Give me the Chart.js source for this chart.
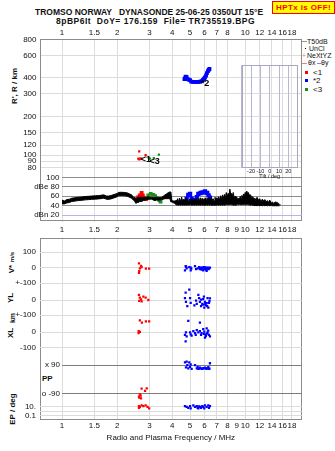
<!DOCTYPE html>
<html>
<head>
<meta charset="utf-8">
<script src="https://cdn.jsdelivr.net/npm/chart.js@4.4.0/dist/chart.umd.min.js"></script>
<style>
body { margin: 0; background: #fff; width: 335px; height: 451px; overflow: hidden; position: relative; font-family: "Liberation Sans", Arial, sans-serif; color: #111; }
canvas { position: absolute; }
.t { position: absolute; white-space: pre; line-height: 1; }
.rt { position: absolute; white-space: pre; line-height: 1; transform: translate(-50%, -50%) rotate(-90deg); font-weight: bold; }
.sw { position: absolute; }
</style>
</head>
<body>

<div class="t" style="left:35px;top:8px;font-size:8.5px;font-weight:bold">TROMSO NORWAY   DYNASONDE 25-06-25 0350UT 15°E</div>
<div class="t" style="left:56px;top:17px;font-size:8.5px;font-weight:bold;letter-spacing:0.5px">8pBP6It  DoY= 176.159  File= TR735519.BPG</div>
<div class="t" style="left:272px;top:1px;width:61px;height:11px;background:#ffff00;border:1px solid #ff0000;color:#ff0000;font-size:8px;font-weight:bold;text-align:center;line-height:11px;letter-spacing:0.4px">HPTx is OFF!</div>

<!-- legend on the right of the ionogram -->
<div class="sw" style="left:302px;top:41px;width:5px;height:1px;background:#999"></div>
<div class="t" style="left:307px;top:38px;font-size:7px">T50dB</div>
<div class="sw" style="left:305px;top:48px;width:1px;height:1px;background:#000"></div>
<div class="t" style="left:309px;top:45px;font-size:7px">UnCl</div>
<div class="t" style="left:302px;top:52px;font-size:7px;color:#f08080">+</div>
<div class="t" style="left:307px;top:52px;font-size:7px">NeXtYZ</div>
<div class="sw" style="left:302px;top:63px;width:5px;height:1px;background:#f08080"></div>
<div class="t" style="left:308px;top:59px;font-size:7px">θx</div>
<div class="sw" style="left:317px;top:63px;width:4px;height:1px;background:#8080ff"></div>
<div class="t" style="left:321px;top:59px;font-size:7px">θy</div>
<div class="sw" style="left:305px;top:71px;width:3px;height:3px;background:#ff0000"></div>
<div class="t" style="left:313px;top:69px;font-size:8px">&lt;1</div>
<div class="sw" style="left:305px;top:79px;width:3px;height:3px;background:#0000ff"></div>
<div class="t" style="left:313px;top:77px;font-size:8px">*2</div>
<div class="sw" style="left:305px;top:88px;width:3px;height:3px;background:#1e8c1e"></div>
<div class="t" style="left:313px;top:86px;font-size:8px">&lt;3</div>

<!-- axis titles -->
<div class="rt" style="left:15px;top:86px;font-size:8px">R', R / km</div>
<div class="rt" style="left:12px;top:269px;font-size:8px">V*</div>
<div class="rt" style="left:12px;top:257px;font-size:6px">m/s</div>
<div class="rt" style="left:11px;top:298px;font-size:8px">YL</div>
<div class="rt" style="left:12px;top:318px;font-size:7px">km</div>
<div class="rt" style="left:11px;top:333px;font-size:8px">XL</div>
<div class="t" style="left:42px;top:375px;font-size:8px;font-weight:bold">PP</div>
<div class="rt" style="left:13px;top:409px;font-size:8px">EP / deg</div>

<canvas id="ionogram" width="335" height="214" style="left:0;top:24px"></canvas>
<canvas id="dbpanel" width="335" height="56" style="left:0;top:170px"></canvas>
<canvas id="tilt" width="80" height="120" style="left:230px;top:60px"></canvas>
<canvas id="lower" width="335" height="221" style="left:0;top:230px"></canvas>
<canvas id="vstar" width="335" height="63" style="left:0;top:229px"></canvas>
<canvas id="ylband" width="335" height="48" style="left:0;top:276px"></canvas>
<canvas id="xlband" width="335" height="56" style="left:0;top:308px"></canvas>
<canvas id="ppband" width="335" height="60" style="left:0;top:348px"></canvas>
<canvas id="epband" width="335" height="35" style="left:0;top:392px"></canvas>

<script>
// frequency axis, log, same for every panel
FREQ_MIN = 0.7584
FREQ_MAX = 20.34
FREQ_TICKS_TOP = [1, 1.5, 2, 3, 4, 5, 6, 7, 8, 10, 12, 14, 16, 18]
FREQ_TICKS_BOTTOM = [1, 1.5, 2, 3, 4, 5, 6, 7, 8, 9, 10, 12, 14, 16, 18]

HEIGHT_TICKS = [80, 90, 100, 120, 150, 200, 300, 400, 600, 800]
DB_TICKS = [20, 40, 60, 80, 100]
DB_TICK_LABELS = ['dBn 20', '40', '60', 'dBe 80', '100']
TILT_TICKS = [-30, -20, -10, 0, 10, 20, 30]
PP_TICKS = [-90, 90]
PP_TICK_LABELS = ['o -90', 'x 90']
EP_TICKS = [0.1, 1, 10]
EP_TICK_LABELS = ['0.1', '', '10.']

// ionogram traces (MHz, km)
RED_F = [2.61, 2.64, 2.67, 2.71, 2.64, 2.86]
RED_H = [94, 93, 94, 94, 107, 100]
GREEN_F = [2.98, 3.02, 3.17, 3.38]
GREEN_H = [95, 94, 95, 101]
BLUE_F = [4.66, 4.69, 4.73, 4.79, 4.85, 4.92, 5.00, 5.07, 5.18, 5.28, 5.38, 5.48, 5.58, 5.68, 5.78, 5.88, 5.96, 6.03, 6.11, 6.18, 6.26, 6.32, 6.38]
BLUE_H = [392, 397, 410, 405, 392, 388, 385, 374, 373, 373, 373, 373, 373, 374, 378, 386, 394, 403, 418, 436, 452, 462, 470]
TRACE_LABELS = [
    { text: '<1', f: 2.87, h: 92.7 },
    { text: '<3', f: 3.2, h: 89 },
    { text: '*2', f: 6.03, h: 365 },
]

// amplitude trace, black band between hi and lo (MHz, dB)
DB_F = [1.00, 1.03, 1.06, 1.10, 1.13, 1.18, 1.23, 1.28, 1.34, 1.40, 1.45, 1.52, 1.58, 1.63, 1.68, 1.72, 1.75, 1.80, 1.85, 1.90, 1.95, 2.00, 2.03, 2.10, 2.20, 2.28, 2.35, 2.40,
    2.45, 2.50, 2.53, 2.57, 2.61, 2.66, 2.72, 2.78, 2.84, 2.90, 2.96, 3.02, 3.09, 3.15, 3.22, 3.29, 3.36, 3.43, 3.50, 3.57, 3.65, 3.72, 3.81, 3.88, 3.93, 3.97, 4.01, 4.07, 4.14, 4.19, 4.23,
    4.28, 4.33, 4.38, 4.44, 4.50, 4.56, 4.62, 4.68, 4.74, 4.80, 4.86, 4.92, 4.98, 5.05, 5.12, 5.19, 5.26, 5.33, 5.40, 5.47, 5.54, 5.61, 5.68, 5.75, 5.82, 5.89, 5.96, 6.03, 6.10, 6.17, 6.24, 6.31, 6.38, 6.45,
    6.52, 6.60, 6.68, 6.76, 6.84, 6.92, 7.00, 7.08, 7.16, 7.25, 7.34, 7.43, 7.52, 7.61, 7.70, 7.79, 7.88, 7.97, 8.06, 8.15, 8.25, 8.34, 8.43, 8.52, 8.60, 8.70, 8.80, 8.90, 9.00, 9.10, 9.20, 9.30, 9.40, 9.50, 9.59, 9.70,
    9.80, 9.90, 10.0, 10.1, 10.2, 10.3, 10.4, 10.55, 10.7, 10.85, 11.0, 11.15, 11.3, 11.45, 11.6, 11.8, 12.0, 12.2, 12.4, 12.6, 12.8, 13.0, 13.2, 13.4, 13.6, 13.9, 14.1, 14.3, 14.6, 14.9, 15.2, 15.4, 15.6]
DB_HI = [52, 50, 53, 54, 56, 57, 58, 58.5, 59.5, 60, 60.5, 61, 61.5, 62, 63, 62, 60.5, 60.5, 61.5, 63, 64.5, 66, 68, 68.5, 68, 67, 64.5, 63,
    58, 57, 55, 57, 58, 58, 58, 58, 58, 58, 59, 58, 58, 57, 57, 58, 58, 57, 58, 60, 63, 65, 68, 69, 69, 52, 51, 50, 50, 52, 50,
    55, 47, 56, 49, 58, 48, 54, 50, 57, 49, 53, 47, 54, 48, 55, 49, 54, 48, 56, 50, 55, 49, 57, 50, 56, 49, 55, 50, 57, 49, 56, 51, 58, 52,
    57, 51, 55, 50, 58, 52, 57, 53, 59, 52, 61, 54, 63, 55, 64, 56, 68, 58, 66, 60, 75, 62, 66, 60, 68, 57, 60, 55, 58, 53, 56, 54, 60, 56, 62, 58,
    65, 61, 68, 64, 71, 66, 68, 62, 63, 57, 59, 54, 56, 51, 58, 52, 55, 48, 54, 50, 53, 48, 51, 47, 52, 46, 48, 45, 48, 47, 45, 43, 42]
DB_LO = [44, 44, 46, 47, 49, 50, 51, 51.5, 52.5, 53, 53.5, 54, 54.5, 55, 56, 55, 53.5, 53.5, 54.5, 56, 57.5, 59, 61, 61.5, 61, 60, 57.5, 56,
    52, 49, 45, 47, 47, 49, 49, 51, 52, 53, 53, 54, 54, 52, 51, 52, 52, 52, 53, 54, 55, 55, 55, 55, 48, 48, 47, 46, 45, 43, 41,
    42, 41, 42, 41, 42, 41, 42, 41, 42, 41, 42, 41, 42, 42, 41, 42, 41, 42, 41, 42, 41, 42, 41, 42, 41, 42, 41, 42, 41, 42, 41, 42, 41,
    42, 41, 41, 41, 42, 41, 42, 41, 42, 41, 42, 41, 42, 41, 42, 41, 42, 42, 43, 42, 43, 42, 43, 42, 42, 41, 42, 41, 42, 42, 43, 42, 43, 42, 43, 42,
    43, 42, 43, 42, 43, 42, 43, 42, 42, 41, 42, 41, 41, 40, 41, 40, 41, 40, 41, 40, 41, 40, 41, 40, 41, 40, 41, 40, 40, 40, 40, 40, 40]
DB_RED_F = [2.56, 2.61, 2.66, 2.72, 2.76, 2.80, 2.87]
DB_RED = [54, 58, 62, 67, 62, 57, 54]
DB_GREEN_F = [2.96, 3.05, 3.15, 3.22, null, 3.40, 3.45]
DB_GREEN = [62, 65, 63, 60, null, 52, 49]
DB_BLUE_F = [4.69, 4.79, 4.89, 5.00, 5.10, 5.20, 5.32, 5.44, 5.55, 5.71, 5.86, 6.03, 6.20, 6.31, 6.42]
DB_BLUE = [47, 55, 63, 65, 55, 49, 52, 58, 65, 67, 68, 70, 67, 62, 57]

// V*, m/s
VS_RED_F = [2.63, 2.70, 2.72, 2.66, 2.64, 2.63, 2.87, 2.99]
VS_RED = [27, 12, 4, -4, -22, -34, -6, -6]
VS_BLUE_F = [4.73, 4.69, 4.79, 4.95, 5.04, 5.04, 5.32, 5.39, 5.50, 5.60, 5.66, 5.74, 5.83, 5.90, 5.98, 6.03, 6.10, 6.23, 6.34, 6.42, 6.16, 5.78,
    5.70, 5.86, 5.94, 6.06, 6.13, 6.19, 6.27, 6.30, 4.76, 5.08]
VS_BLUE = [10, -17, -4, 4, -17, 0, 10, -10, -4, 4, -10, 0, -4, -17, 4, -10, -4, 0, -6, 0, -21, -12,
    -6, 2, -8, 2, -12, -6, -2, -10, 6, -6]

// YL, km
YL_RED_F = [2.63, 2.66, 2.70, 2.78, 2.86, 2.96, 2.64, 2.72]
YL_RED = [33, 16, 4, 22, 16, 0, -6, -9]
YL_BLUE_F = [4.95, 4.73, 4.69, 4.75, 4.83, 5.00, 5.04, 5.28, 5.39, 5.55, 5.60, 5.66, 5.74, 5.83, 5.90, 5.98, 6.03, 6.10, 6.23, 6.34, 6.29, 5.74, 5.44, 5.95,
    6.16, 6.05, 5.88, 6.20, 6.38, 6.42]
YL_BLUE = [69, 48, 12, -12, -40, 12, -19, -36, -4, 33, 12, -12, -40, -25, 6, -50, -12, -36, 12, -19, -50, 2, -25, 22,
    -20, -28, -30, -40, -8, 10]

// XL, km
XL_RED_F = [2.66, 2.73, 2.87, 2.99, 2.62, 2.62, 2.66]
XL_RED = [77, 62, 70, 70, 8, -6, 2]
XL_BLUE_F = [4.89, 5.66, 4.75, 4.69, 4.79, 4.73, 5.00, 5.04, 5.21, 5.32, 5.44, 5.55, 5.66, 5.78, 5.90, 5.98, 6.08, 6.16, 6.23, 6.34, 6.42, 6.03, 5.74, 5.10, 5.37,
    6.10, 6.20, 5.95, 6.28]
XL_BLUE = [73, 62, 0, -17, -27, -59, 0, -13, 8, -6, 14, 0, 8, -6, 21, 4, -13, 25, 0, -17, -27, -34, -17, -21, -17,
    -25, -8, -10, 10]

// PP, deg
PP_RED_F = [2.72, 2.90, 2.84, 2.66, 2.63, 2.69, 2.64, 2.70]
PP_RED = [-58, -56, -73, -94, -109, -102, -115, -119]
PP_BLUE_F = [4.69, 4.79, 4.95, 5.04, 4.75, 4.89, 5.10, 5.32, 5.44, 5.55, 5.66, 5.78, 5.90, 6.03, 6.16, 6.29, 6.42, 6.34, 5.50, 5.00, 4.83,
    5.60, 5.70, 5.85, 5.95, 6.10, 6.22, 6.38]
PP_BLUE = [107, 111, 107, 94, 75, 69, 65, 90, 69, 65, 73, 65, 69, 73, 65, 77, 101, 65, 79, 79, 90,
    67, 70, 67, 71, 68, 70, 68]

// EP, deg
EP_RED_F = [2.63, 2.66, 2.72, 2.78, 2.86, 2.93, 2.99, 2.63]
EP_RED = [16, 10, 22, 16, 22, 10, 4.7, 6.2]
EP_BLUE_F = [4.69, 4.79, 4.89, 5.00, 5.04, 5.21, 5.32, 5.44, 5.50, 5.55, 5.60, 5.66, 5.74, 5.83, 5.90, 5.98, 6.03, 6.16, 6.29, 6.34, 6.42]
EP_BLUE = [16, 10, 6.2, 16, 4.7, 22, 10, 16, 6.2, 4.7, 14, 10, 6.2, 16, 10, 4.7, 22, 10, 22, 6.2, 16]

RED = '#ff0000'
BLUE = '#0000ff'
GREEN = '#1e8c1e'
GRID = '#dcdcdc'
FRAME = '#8c8c8c'

Chart.defaults.font.family = '"Liberation Sans", Arial, sans-serif'
Chart.defaults.font.size = 8
Chart.defaults.color = '#111'

function pts(xs, ys) {
    return xs.map((x, i) => ({ x: x, y: ys[i] }))
}

function setTicks(vals) {
    return function (scale) {
        scale.ticks = vals.map(v => ({ value: v }))
    }
}

// draws the box round the chart area
framePlugin = {
    id: 'frame',
    beforeDatasetsDraw(chart, args, opts) {
        if (!opts.color) return
        a = chart.chartArea
        c = chart.ctx
        c.save()
        c.strokeStyle = opts.color
        c.lineWidth = 1
        c.strokeRect(Math.round(a.left) + 0.5, Math.round(a.top) + 0.5, Math.round(a.right - a.left) - 1, Math.round(a.bottom - a.top) - 1)
        c.restore()
    }
}

// trace names written next to the traces
traceLabelPlugin = {
    id: 'tlabels',
    afterDatasetsDraw(chart, args, opts) {
        if (!opts.items) return
        c = chart.ctx
        c.save()
        c.fillStyle = '#000'
        c.font = 'bold 9px "Liberation Sans", Arial, sans-serif'
        c.textAlign = 'center'
        c.textBaseline = 'middle'
        opts.items.forEach(it => {
            c.fillText(it.text, chart.scales.x.getPixelForValue(it.f), chart.scales.y.getPixelForValue(it.h))
        })
        c.restore()
    }
}

function dots(data, color, r) {
    return { data: data, backgroundColor: color, borderWidth: 0, pointStyle: 'rect', pointRadius: r || 1.6 }
}

function baseOptions(extra) {
    o = {
        responsive: false,
        animation: false,
        events: [],
        devicePixelRatio: 1,
        plugins: { legend: { display: false }, tooltip: { enabled: false }, frame: {}, tlabels: {} },
    }
    return Object.assign(o, extra)
}

// ---- top frame: ionogram, full-height vertical grid
new Chart(document.getElementById('ionogram'), {
    type: 'scatter',
    plugins: [framePlugin, traceLabelPlugin],
    data: {
        datasets: [
            dots(pts(RED_F, RED_H), RED),
            dots(pts(GREEN_F, GREEN_H), GREEN),
            Object.assign(dots(pts(BLUE_F, BLUE_H), BLUE, 1.3), { showLine: true, borderColor: BLUE, borderWidth: 2 }),
        ]
    },
    options: baseOptions({
        layout: { padding: { right: 33.3 } },
        plugins: { legend: { display: false }, tooltip: { enabled: false }, frame: { color: FRAME }, tlabels: { items: TRACE_LABELS } },
        scales: {
            x: {
                type: 'logarithmic', position: 'bottom', min: FREQ_MIN, max: FREQ_MAX, bounds: 'data',
                afterBuildTicks: setTicks(FREQ_TICKS_BOTTOM),
                afterFit: s => { s.height = 16.3 },
                grid: { color: ctx => (ctx.tick && ctx.tick.value === 9) ? 'rgba(0,0,0,0)' : GRID, drawTicks: false },
                border: { display: false },
                ticks: { padding: 3.5, autoSkip: false, maxRotation: 0, callback: v => String(v) }
            },
            xTop: {
                type: 'logarithmic', position: 'top', min: FREQ_MIN, max: FREQ_MAX, bounds: 'data',
                afterBuildTicks: setTicks(FREQ_TICKS_TOP),
                afterFit: s => { s.height = 15.3 },
                grid: { display: false, drawTicks: false },
                border: { display: false },
                ticks: { padding: 1.5, autoSkip: false, maxRotation: 0, callback: v => String(v) }
            },
            y: {
                type: 'logarithmic', min: 30.37, max: 800, bounds: 'data',
                afterBuildTicks: setTicks(HEIGHT_TICKS),
                afterFit: s => { s.width = 40 },
                grid: { color: GRID, drawTicks: false },
                border: { display: false },
                ticks: { padding: 3.5, autoSkip: false, callback: v => String(v) }
            }
        }
    })
})

// ---- amplitude panel inside the top frame
new Chart(document.getElementById('dbpanel'), {
    type: 'scatter',
    data: {
        datasets: [
            { data: pts(DB_F, DB_HI), showLine: true, fill: '+1', borderColor: '#000', borderWidth: 1, backgroundColor: '#000', pointRadius: 0 },
            { data: pts(DB_F, DB_LO), showLine: true, borderColor: '#000', borderWidth: 1, backgroundColor: '#000', pointRadius: 0 },
            Object.assign(dots(pts(DB_RED_F, DB_RED), RED, 1.3), { showLine: true, borderColor: RED, borderWidth: 2 }),
            Object.assign(dots(pts(DB_GREEN_F, DB_GREEN), GREEN, 1.3), { showLine: true, borderColor: GREEN, borderWidth: 2, spanGaps: false }),
            Object.assign(dots(pts(DB_BLUE_F, DB_BLUE), BLUE, 1.3), { showLine: true, borderColor: BLUE, borderWidth: 2.5 }),
        ]
    },
    options: baseOptions({
        layout: { padding: { top: 7, bottom: 4.3, right: 33.3 } },
        scales: {
            x: { type: 'logarithmic', min: 1, max: FREQ_MAX, bounds: 'data', display: false },
            y: {
                min: 12.78, max: 100, bounds: 'data',
                afterBuildTicks: setTicks(DB_TICKS),
                afterFit: s => { s.width = 62 },
                grid: { color: ctx => (ctx.tick && ctx.tick.value === 20) ? '#b4b4f0' : '#8c8c8c', drawTicks: false },
                border: { display: false },
                ticks: { padding: 2.5, autoSkip: false, callback: (v, i) => DB_TICK_LABELS[i] }
            }
        }
    })
})

// ---- tilt inset (empty)
new Chart(document.getElementById('tilt'), {
    type: 'scatter',
    plugins: [framePlugin],
    data: { datasets: [] },
    options: baseOptions({
        layout: { padding: { left: 11.7, right: 12.3, top: 5 } },
        plugins: { legend: { display: false }, tooltip: { enabled: false }, frame: { color: '#a8a8c4' } },
        scales: {
            x: {
                type: 'linear', min: -30, max: 30, bounds: 'data',
                afterBuildTicks: setTicks(TILT_TICKS),
                afterFit: s => { s.height = 12.3 },
                grid: { color: '#b8b8d0', drawTicks: false },
                border: { display: false },
                ticks: { padding: 0, font: { size: 5.5 }, autoSkip: false, maxRotation: 0, callback: v => Math.abs(v) === 30 ? '' : String(v) },
                title: { display: true, text: 'Tilt / deg', font: { size: 5.5 }, padding: 0 }
            },
            y: { display: false, min: 0, max: 1 }
        }
    })
})

// ---- lower frame with frequency axis
new Chart(document.getElementById('lower'), {
    type: 'scatter',
    plugins: [framePlugin],
    data: { datasets: [] },
    options: baseOptions({
        layout: { padding: { left: 40, right: 33.3, top: 7.5 } },
        plugins: { legend: { display: false }, tooltip: { enabled: false }, frame: { color: FRAME } },
        scales: {
            x: {
                type: 'logarithmic', min: FREQ_MIN, max: FREQ_MAX, bounds: 'data',
                afterBuildTicks: setTicks(FREQ_TICKS_BOTTOM),
                afterFit: s => { s.height = 32 },
                grid: { color: ctx => (ctx.tick && ctx.tick.value === 9) ? 'rgba(0,0,0,0)' : GRID, drawTicks: false },
                border: { display: false },
                ticks: { padding: 2.2, autoSkip: false, maxRotation: 0, callback: v => String(v) },
                title: { display: true, text: 'Radio and Plasma Frequency / MHz', font: { size: 8 }, padding: { top: 0, bottom: 8.5 } }
            },
            y: { display: false, min: 0, max: 1 }
        }
    })
})

// one band of the lower frame: own y scale, shared frequency mapping
function band(id, padTop, padBottom, left, yScale, datasets) {
    new Chart(document.getElementById(id), {
        type: 'scatter',
        data: { datasets: datasets },
        options: baseOptions({
            layout: { padding: { top: padTop, bottom: padBottom, right: 33.3 } },
            scales: {
                x: { type: 'logarithmic', min: left === 62 ? 1 : FREQ_MIN, max: FREQ_MAX, bounds: 'data', display: false },
                y: Object.assign({
                    bounds: 'data',
                    afterFit: s => { s.width = left },
                    border: { display: false },
                }, yScale)
            }
        })
    })
}

band('vstar', 8.5, 7.7, 40, {
    min: -100, max: 192.5,
    afterBuildTicks: setTicks([-100, 0, 100]),
    grid: { color: GRID, drawTicks: false },
    ticks: { padding: 4, autoSkip: false, callback: v => v === -100 ? '+-100' : String(v) }
}, [dots(pts(VS_RED_F, VS_RED), RED), dots(pts(VS_BLUE_F, VS_BLUE), BLUE)])

band('ylband', 8.3, 7.7, 40, {
    min: -100, max: 100,
    afterBuildTicks: setTicks([-100, 0]),
    grid: { color: GRID, drawTicks: false },
    ticks: { padding: 4, autoSkip: false, callback: v => v === -100 ? '+-100' : String(v) }
}, [dots(pts(YL_RED_F, YL_RED), RED), dots(pts(YL_BLUE_F, YL_BLUE), BLUE)])

band('xlband', 8.3, 8, 40, {
    min: -148, max: 100,
    afterBuildTicks: setTicks([-100, 0]),
    grid: { color: GRID, drawTicks: false },
    ticks: { padding: 4, autoSkip: false, callback: v => String(v) }
}, [dots(pts(XL_RED_F, XL_RED), RED), dots(pts(XL_BLUE_F, XL_BLUE), BLUE)])

band('ppband', 8, 8, 62, {
    min: -129.5, max: 146.5,
    afterBuildTicks: setTicks(PP_TICKS),
    grid: { color: '#7c7c7c', drawTicks: false },
    ticks: { padding: 2, autoSkip: false, callback: (v, i) => PP_TICK_LABELS[i] }
}, [dots(pts(PP_RED_F, PP_RED), RED), dots(pts(PP_BLUE_F, PP_BLUE), BLUE)])

band('epband', 8, 8, 40, {
    type: 'logarithmic', min: 0.031, max: 233,
    afterBuildTicks: setTicks(EP_TICKS),
    grid: { color: GRID, drawTicks: false },
    ticks: { padding: 4, autoSkip: false, callback: (v, i) => EP_TICK_LABELS[i] }
}, [dots(pts(EP_RED_F, EP_RED), RED), dots(pts(EP_BLUE_F, EP_BLUE), BLUE)])
</script>
</body>
</html>
